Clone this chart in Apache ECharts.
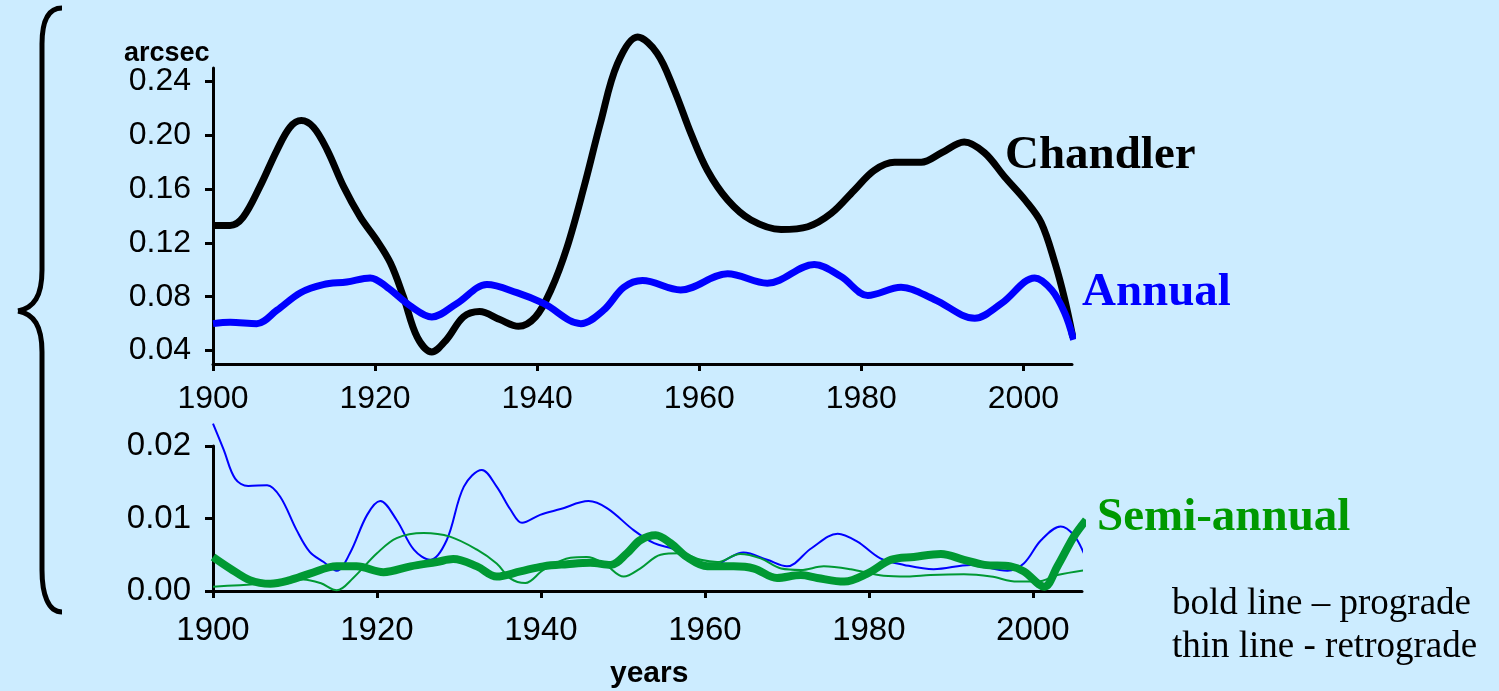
<!DOCTYPE html>
<html>
<head>
<meta charset="utf-8">
<script src="https://cdn.jsdelivr.net/npm/echarts@6/dist/echarts.min.js"></script>
<style>
html,body{margin:0;padding:0;background:#CCECFF;}
#chart{width:1499px;height:691px;}
</style>
</head>
<body>
<div id="chart"></div>
<script>
// ---- Top panel: Chandler and Annual (prograde) amplitudes, arcsec ----
const chandlerYears = [1900, 1902.1, 1903.7, 1905.8, 1907.9, 1909.5, 1910.9, 1912.4, 1914.1, 1916.1, 1918.2, 1920.2, 1921.9, 1923.5, 1925.2, 1927.0, 1928.8, 1930.9, 1932.9, 1935.4, 1937.7, 1939.8, 1941.7, 1943.7, 1945.8, 1947.8, 1949.9, 1952.4, 1954.8, 1956.9, 1959.0, 1961.0, 1963.5, 1966.4, 1970.1, 1973.4, 1976.3, 1979.1, 1981.6, 1984.1, 1987.4, 1989.9, 1992.7, 1995.2, 1997.7, 2000.2, 2002.2, 2003.9, 2005.1, 2006.1];
const chandlerValues = [0.133, 0.133, 0.139, 0.162, 0.189, 0.206, 0.211, 0.206, 0.189, 0.162, 0.139, 0.122, 0.105, 0.080, 0.050, 0.039, 0.048, 0.065, 0.069, 0.063, 0.058, 0.065, 0.085, 0.117, 0.162, 0.209, 0.253, 0.273, 0.261, 0.234, 0.201, 0.174, 0.152, 0.137, 0.130, 0.132, 0.142, 0.159, 0.174, 0.180, 0.180, 0.187, 0.195, 0.187, 0.169, 0.152, 0.135, 0.105, 0.078, 0.050];

const annualYears = [1900, 1902.1, 1905.4, 1907.9, 1910.8, 1913.6, 1916.5, 1919.4, 1921.5, 1924.4, 1927.0, 1930.1, 1933.8, 1937.5, 1940.8, 1945.4, 1948.2, 1950.7, 1953.0, 1957.7, 1963.5, 1968.4, 1974.2, 1977.5, 1980.8, 1984.9, 1989.0, 1994.0, 1997.3, 2001.4, 2003.5, 2005.1, 2006.2];
const annualValues = [0.060, 0.061, 0.060, 0.070, 0.083, 0.089, 0.091, 0.094, 0.087, 0.073, 0.065, 0.075, 0.089, 0.083, 0.075, 0.060, 0.070, 0.087, 0.092, 0.085, 0.097, 0.090, 0.104, 0.095, 0.081, 0.087, 0.078, 0.064, 0.075, 0.094, 0.085, 0.068, 0.048];

// ---- Bottom panel ----
// Annual retrograde (thin blue)
const annualRetroYears = [1900, 1901.3, 1902.7, 1904.3, 1906.6, 1908.2, 1910.2, 1911.8, 1913.5, 1915.1, 1916.7, 1918.8, 1920.4, 1922.4, 1924.5, 1926.5, 1928.5, 1930.6, 1932.8, 1934.6, 1936.3, 1937.7, 1939.9, 1942.4, 1945.8, 1948.1, 1951.3, 1953.8, 1956.2, 1958.6, 1960.7, 1962.7, 1964.7, 1967.6, 1970.0, 1973.0, 1976.2, 1978.6, 1981.4, 1984.3, 1987.9, 1992.4, 1996.9, 1998.9, 2001.0, 2003.4, 2005.0, 2006.3];
const annualRetroValues = [0.0231, 0.0195, 0.0155, 0.0145, 0.0146, 0.0130, 0.0084, 0.0054, 0.0040, 0.0028, 0.0052, 0.0105, 0.0124, 0.0098, 0.0057, 0.0043, 0.0070, 0.0144, 0.0167, 0.0144, 0.0112, 0.0094, 0.0105, 0.0113, 0.0124, 0.0114, 0.0084, 0.0066, 0.0058, 0.0045, 0.0031, 0.0044, 0.0053, 0.0043, 0.0034, 0.0059, 0.0079, 0.0068, 0.0045, 0.0036, 0.0030, 0.0036, 0.0028, 0.0038, 0.0070, 0.0089, 0.0077, 0.0050];

// Semi-annual prograde (bold green)
const semiProYears = [1900, 1902.1, 1904.5, 1907.0, 1909.4, 1911.8, 1915.1, 1917.5, 1920.8, 1924.1, 1927.3, 1929.3, 1932.2, 1934.6, 1937.5, 1940.3, 1943.2, 1946.0, 1948.5, 1950.5, 1952.1, 1954.0, 1955.8, 1957.8, 1960.3, 1963.5, 1966.0, 1968.8, 1971.7, 1973.7, 1977.0, 1979.8, 1982.7, 1985.5, 1988.8, 1991.6, 1994.1, 1997.3, 1998.9, 2001.4, 2003.0, 2005.0, 2006.5];
const semiProValues = [0.0047, 0.0031, 0.0015, 0.0010, 0.0015, 0.0024, 0.0034, 0.0034, 0.0026, 0.0034, 0.0040, 0.0044, 0.0034, 0.0020, 0.0027, 0.0034, 0.0037, 0.0039, 0.0036, 0.0052, 0.0070, 0.0077, 0.0066, 0.0047, 0.0034, 0.0034, 0.0031, 0.0018, 0.0022, 0.0018, 0.0013, 0.0024, 0.0043, 0.0047, 0.0051, 0.0043, 0.0036, 0.0034, 0.0027, 0.0006, 0.0034, 0.0075, 0.0098];

// Semi-annual retrograde (thin green)
const semiRetroYears = [1900, 1905.7, 1911.0, 1913.1, 1915.1, 1917.1, 1920.0, 1922.4, 1925.7, 1928.9, 1932.2, 1934.6, 1936.3, 1938.1, 1940.3, 1943.6, 1945.6, 1947.7, 1950.1, 1952.1, 1954.6, 1957.0, 1959.5, 1961.5, 1964.3, 1966.8, 1969.3, 1971.7, 1974.5, 1977.8, 1981.8, 1984.7, 1987.5, 1991.6, 1994.9, 1998.1, 2000.6, 2003.0, 2006.5];
const semiRetroValues = [0.0006, 0.0010, 0.0016, 0.0011, 0.0001, 0.0018, 0.0052, 0.0073, 0.0080, 0.0075, 0.0057, 0.0038, 0.0017, 0.0011, 0.0029, 0.0046, 0.0047, 0.0038, 0.0020, 0.0031, 0.0050, 0.0052, 0.0043, 0.0040, 0.0051, 0.0045, 0.0031, 0.0029, 0.0034, 0.0030, 0.0021, 0.0020, 0.0022, 0.0023, 0.0020, 0.0013, 0.0013, 0.0022, 0.0029];

// Tick labels
const topYTicks = [0.04, 0.08, 0.12, 0.16, 0.20, 0.24];
const bottomYTicks = [0.00, 0.01, 0.02];

// Annotation texts
const labelChandler = 'Chandler';
const labelAnnual = 'Annual';
const labelSemi = 'Semi-annual';
const noteBold = 'bold line \u2013 prograde';
const noteThin = 'thin line - retrograde';
const unitLabel = 'arcsec';
const xName = 'years';

function pairs(xs, ys) { return xs.map((x, i) => [x, ys[i]]); }

const sans = '"Liberation Sans", Arial, sans-serif';
const serif = '"Liberation Serif", "Times New Roman", serif';

const axisLineStyle = { show: true, lineStyle: { color: '#000', width: 3 } };
const braceStyle = { fill: 'none', stroke: '#000', lineWidth: 5 };

const chart = echarts.init(document.getElementById('chart'));
chart.setOption({
  backgroundColor: '#CCECFF',
  animation: false,
  grid: [
    { left: 213, right: 427, top: 68, height: 296 },
    { left: 213, right: 417, top: 446, height: 145 }
  ],
  xAxis: [
    {
      type: 'value', gridIndex: 0, min: 1900, max: 2006, interval: 20,
      axisLine: axisLineStyle,
      axisTick: { show: true, length: 7, lineStyle: { color: '#000', width: 3 } },
      axisLabel: { color: '#000', fontFamily: sans, fontSize: 32, margin: 19, showMaxLabel: false,
        formatter: v => (v % 20 === 0 ? String(v) : '') },
      splitLine: { show: false }
    },
    {
      type: 'value', gridIndex: 1, min: 1900, max: 2006, interval: 20,
      axisLine: axisLineStyle,
      axisTick: { show: true, length: 7, lineStyle: { color: '#000', width: 3 } },
      axisLabel: { color: '#000', fontFamily: sans, fontSize: 33, margin: 23, showMaxLabel: false,
        formatter: v => (v % 20 === 0 ? String(v) : '') },
      splitLine: { show: false }
    }
  ],
  yAxis: [
    {
      type: 'value', gridIndex: 0, min: 0.03, max: 0.25,
      axisLine: axisLineStyle,
      axisTick: { show: true, length: 8, customValues: topYTicks, lineStyle: { color: '#000', width: 3 } },
      axisLabel: { color: '#000', fontFamily: sans, fontSize: 32, margin: 22, customValues: topYTicks,
        formatter: v => v.toFixed(2) },
      splitLine: { show: false }
    },
    {
      type: 'value', gridIndex: 1, min: 0, max: 0.02, interval: 0.01,
      axisLine: axisLineStyle,
      axisTick: { show: true, length: 8, lineStyle: { color: '#000', width: 3 } },
      axisLabel: { color: '#000', fontFamily: sans, fontSize: 33, margin: 22,
        formatter: v => v.toFixed(2) },
      splitLine: { show: false }
    }
  ],
  series: [
    { type: 'line', xAxisIndex: 0, yAxisIndex: 0, data: pairs(chandlerYears, chandlerValues),
      smooth: 0.35, showSymbol: false, clip: false, lineStyle: { color: '#000000', width: 7 } },
    { type: 'line', xAxisIndex: 0, yAxisIndex: 0, data: pairs(annualYears, annualValues),
      smooth: 0.35, showSymbol: false, clip: false, lineStyle: { color: '#0000FF', width: 7 } },
    { type: 'line', xAxisIndex: 1, yAxisIndex: 1, data: pairs(annualRetroYears, annualRetroValues),
      smooth: 0.35, showSymbol: false, clip: false, lineStyle: { color: '#0000FF', width: 2 } },
    { type: 'line', xAxisIndex: 1, yAxisIndex: 1, data: pairs(semiRetroYears, semiRetroValues),
      smooth: 0.35, showSymbol: false, clip: false, lineStyle: { color: '#009933', width: 2 } },
    { type: 'line', xAxisIndex: 1, yAxisIndex: 1, data: pairs(semiProYears, semiProValues),
      smooth: 0.35, showSymbol: false, clip: false, lineStyle: { color: '#009933', width: 8 } }
  ],
  graphic: [
    { type: 'bezierCurve', shape: { x1: 62, y1: 8, x2: 42, y2: 44, cpx1: 48, cpy1: 8, cpx2: 42, cpy2: 22 }, style: braceStyle },
    { type: 'line', shape: { x1: 42, y1: 44, x2: 42, y2: 270 }, style: braceStyle },
    { type: 'bezierCurve', shape: { x1: 42, y1: 270, x2: 18, y2: 311, cpx1: 42, cpy1: 296, cpx2: 34, cpy2: 308 }, style: braceStyle },
    { type: 'bezierCurve', shape: { x1: 18, y1: 311, x2: 42, y2: 352, cpx1: 34, cpy1: 314, cpx2: 42, cpy2: 326 }, style: braceStyle },
    { type: 'line', shape: { x1: 42, y1: 352, x2: 42, y2: 570 }, style: braceStyle },
    { type: 'bezierCurve', shape: { x1: 42, y1: 570, x2: 62, y2: 612, cpx1: 42, cpy1: 594, cpx2: 48, cpy2: 612 }, style: braceStyle },
    { type: 'text', left: 124, top: 40, style: { text: unitLabel, font: 'bold 27px ' + sans, fill: '#000' } },
    { type: 'text', left: 610, top: 659, style: { text: xName, font: 'bold 30px ' + sans, fill: '#000' } },
    { type: 'text', x: 1005, y: 156, style: { text: labelChandler, font: 'bold 47px ' + serif, fill: '#000', verticalAlign: 'middle' } },
    { type: 'text', x: 1082, y: 293, style: { text: labelAnnual, font: 'bold 47px ' + serif, fill: '#0000FF', verticalAlign: 'middle' } },
    { type: 'text', x: 1097, y: 518, style: { text: labelSemi, font: 'bold 47px ' + serif, fill: '#009900', verticalAlign: 'middle' } },
    { type: 'text', x: 1172, y: 604, style: { text: noteBold, font: '37px ' + serif, fill: '#000', verticalAlign: 'middle' } },
    { type: 'text', x: 1172, y: 647, style: { text: noteThin, font: '37px ' + serif, fill: '#000', verticalAlign: 'middle' } }
  ]
});
</script>
</body>
</html>
